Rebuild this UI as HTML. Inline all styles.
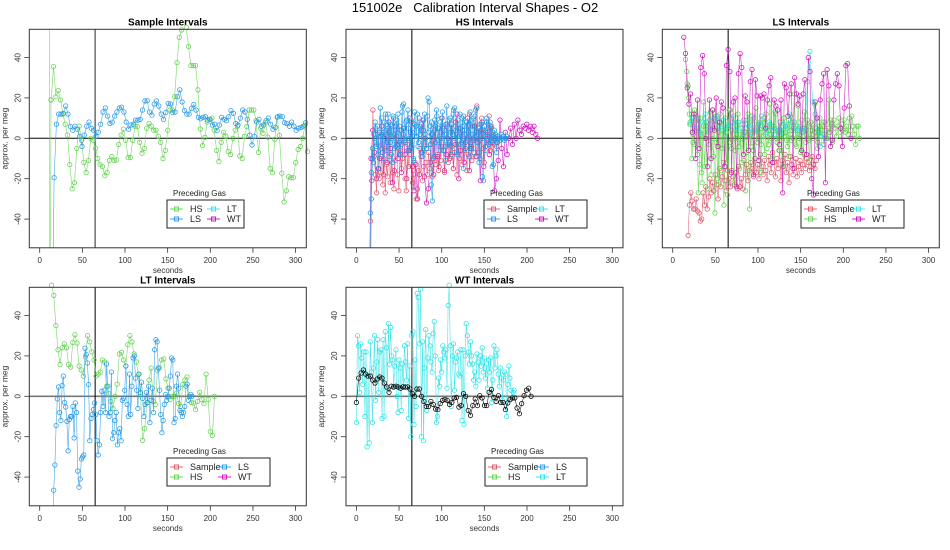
<!DOCTYPE html>
<html><head><meta charset="utf-8"><style>
html,body{margin:0;padding:0;background:#fff;width:950px;height:550px;overflow:hidden;}
svg{display:block;font-family:"Liberation Sans",sans-serif;}
</style></head><body>
<svg id="chart" width="950" height="550" xmlns="http://www.w3.org/2000/svg">
<text x="475" y="12" text-anchor="middle" font-size="13" fill="#000" style="white-space:pre">151002e   Calibration Interval Shapes - O2</text>
</svg>
<script>
// ---- data arrays (values in per meg) ----
const p1HS = [19,35.5,20.6,23.6,19,12,7,1.6,-13,-25,-22,-5,6,-1,-12,-17,-11,0,-1,-5,-10,-13,-14,-18.5,-17,-11,-9,-11,-10.7,-3,1.6,4.5,-1,-9.6,-9.4,-1,6,5.8,-2,-7.4,-5,5,7.4,6,4,4,1,-2,-10,-6,4,14,14,20.6,37.5,50,53.6,58,55,45.4,36,36,36,24,4.6,-3.6,0.5,8,9.4,10,4,-6,-11.5,-2,3,1,-6.6,-8,0,4,6,-8.7,-10,1,5.8,14,14,14,8.7,-7,5,2.5,7.7,0.6,-15,-17,-0.5,10.4,1.5,-17.3,-31.5,-26,-19,-19.5,-19.5,-12,-5.5,-4,0,6.6,-6.6];
const p1HSpre = [200,-200,19];
const p1LS = [-120,-19.5,7,12,12,12.4,16,12,5.8,4,6,4.5,1,-4,1.6,6,8,5,4,1,3,7,13,15,11,7.4,8,11,13,15,15.4,13,8,4.5,6.6,7,9,9,9.4,14,18.5,18.6,13,11.5,17,18.5,16,12,9.4,12.7,17.3,17,12.7,13,20.6,24,18,13.7,12,12,14.7,16.8,14,10.4,9.7,10.4,10.7,9,9.4,6.6,7,3.8,6.6,10.4,9.4,8.7,10.7,13.7,12.4,7.4,6.6,10,14,13,9.4,1.6,-3.3,1,8,9.4,6,6.6,8.7,10,7,4.5,5.4,10.7,11,10.7,7.7,7.4,6,8,6,4,5,5.4,6,7.7];
const p2LSa = [-100,-37,-17,-5,-12,0,5,-3,-8,3,15,-5,2,-10,8,4,-6,12,3,-2,6,-12,10,2,-4,7,12,-8,4,-3,16,17,5,-2,9,14,0,-6,8,3,-11,13,6,1,-4,10,2,7,-9,4,12,0,-5,20,18,6,-23,-31,3,9,-2,11,5,-4,8,0,13,-6,2,7,16,-3,5,10,-8,2,14,15,4,-7,9,1,12,-2,6,11,0,-5,8,3,-9,13,-4,6,10,-1,14,15,2,-12,7,4,-19,-21,6,1,10,3,-2,8,0,-14,-13,4,2,-7,1,0,-1,2,0,1,-1,0,1];
const p2LSb = [-100,-30,-10,2,8,-4,6,-15,1,10,-7,3,12,-2,5,-9,7,0,11,-5,4,9,-3,6,-8,13,2,-1,8,-6,5,10,-4,3,-10,7,1,12,-2,6,4,-7,9,0,-5,11,3,-3,8,2,-9,6,14,-1,5,-6,10,1,4,-11,7,-2,9,3,-4,12,0,6,-8,5,2,-3,10,-15,4,8,-1,6,-5,9,2,-7,11,3,-2,5,-10,7,0,4,-6,8,1,-3,6,-1,3,0,2,-2,1];
const p2Sample = [-100,-41,-21,14,-9,-18,-27,2,-20,-17,-9,-23,-5,-27,-13,-19,3,-22,-8,-17,-25,-11,1,-18,-26,-6,-15,-10,5,-20,-26,-3,-14,-8,9,-22,-18,-12,-30,-25,-16,-5,-9,-21,-14,2,-12,-18,-7,-15,-3,-19,-10,4,-13,-8,-16,1,-11,10,-6,-17,-4,6,-12,-2,-9,3,-15,-7,8,-18,-3,-10,5,-13,-1,-6,2,-16,-8,12,-4,-11,0,6,-9,16,-2,-7,4,10,-5,-12,3,8,-1,11,-6,6,2,-3,0,-4,-2,0];
const p2WT = [-100,-10,4,-7,-20,-15,-10,6,-18,2,-12,8,-5,-22,-16,6,-10,-2,-17,5,-8,-20,-6,3,-14,-26,-13,-30,-18,-7,9,-19,-32,-25,-12,2,-18,6,-9,-14,-4,5,-16,-8,0,-10,7,-15,-3,12,-20,-6,4,-12,-2,10,-16,-5,-1,6,-9,3,-21,8,-14,-4,2,-8,5,-2,-26,-20,-11,9,-5,-14,3,-8,0,5,-3,7,0,9,4,2,6,5,7,4,6,3,6,2,0];
const p3WT = [50,42,25,17,22,3,12,-10,19,-5,35,41,32,0,-14,19,-10,14,4,20,-4,8,18,15,-14,36,44,33,-17,18,20,-24,32,42,35,-8,21,18,-6,28,34,-18,29,21,-11,21,20,22,5,19,26,30,-12,19,16,14,-3,19,-27,27,25,11,22,27,-15,30,22,17,21,-6,22,29,-8,40,33,-20,-28,18,10,-9,19,27,32,-22,34,26,-4,-1,19,27,32,26,5,-4,15,36,37,16,0];
const p3Sample = [-48,-33,-27,-31,-35,-35,-30,-36,-37,-41,-40,-27,-33,-24,-35,-29,-20,-27,-22,-26,-18,-23,-30,-15,-24,-19,-12,-21,-26,-16,-20,-24,-16,-19,-23,-17,-25,-14,-24,-20,-25,-11,-18,-13,-21,-16,-12,-15,-19,-10,-17,-13,-20,-8,-14,-18,-11,-16,-21,-9,-13,-17,-7,-12,-19,-10,-15,-6,-21,-11,-14,-8,-17,-12,-22,-9,-13,-18,-15,-10,-19,-14,-11,-17,-13,-8,-15,-10,-12,-16,-14,-9,-13,-15,-11];
const p3HSa = [39,33,26,12,7,-10,2,-3,12,5,-27,-13,10,-22,18,0,6,-25,3,9,-18,14,5,-37,-2,8,-23,12,-16,4,-33,10,3,-28,6,14,-5,8,-22,0,6,12,-4,2,-12,7,3,-26,5,9,-35,2,11,-6,4,15,-2,7,3,-17,9,1,-8,12,5,-3,17,2,-10,6,13,0,4,-6,8,2,-14,10,3,-1,7,-9,11,4,0,22,5,-4,16,2,-7,9,3,13,-2,6,0,-11,8,4,2,17,5,-5,3,10,1,6,-3,8,4,0,19,3,7,-2,9,5,1,6,10,3,7,4,9,3,6,2,10,4,11,6,2,-3,6,6,0];
const p3HSb = [27,20,8,12,-2,14,4,-8,10,2,-17,6,-14,8,4,-3,13,0,-9,5,11,-20,3,7,-5,9,1,-12,6,14,-2,4,11,-6,2,8,-15,5,0,9,3,-7,12,1,-4,7,3,-10,5,0,8,-3,6,10,2,-5,4,7,0,-9,5,12,-2,3,8,-6,4,1,6,-4,9,2,-1,5,8,-3,4,0,6,3,-7,5,2,9,-1,4,7,0,3,5,-2,6,1,4,8,2,0,5,3,9,6];
const p3LT = [7,10,5,9,3,8,12,6,4,10,7,11,5,9,3,7,6,10,4,8,5,2,9,6,3,10,4,7,11,5,3,8,6,2,5,4,3,7,5,12,8,4,6,3,5,4,28,43,18,12,4,-4,2,0];
const p4HS = [55,50,35,23,15.7,24,26,24,15.7,14.5,26.7,30.5,26.4,15,13,10,19.5,30,27,22,18,10,11,12,18,17,5,1.3,-2.5,-6,0,6,21,21.8,18,15,25.6,30,27,21,17,10.7,1.3,-21.8,-16,-3.3,8,14,-2.5,-4,13,14,18,18.5,8.6,4,-1.6,0,0,1.6,-3.6,-5,5.8,8,9.6,0,-3,-3.3,-6.6,-2.5,2,-1.6,-3.6,11,-1.6,-17.5,-19.3,0];
const p4LS = [-100,-46.5,-34,-14.5,-1.3,4.6,-8,-12,5.3,10,-3,-5.3,-12.4,-27,-11.5,-10,-10,-5,-20.6,-3.3,-8,-37,-45,-41,-31,-30,-29,23.8,20.6,16.5,5.8,-22,-11,-9,-6.6,-3.3,-9,-22,-29,-24,-8,2.5,-5,3,-8,16,5,-10,-8,12,-21,-18,-12,-8,-24,-18,-16,-22,-2,-1,3,15,-4,-10,11,-9,5,19,20,9,3,-6,11,2,7,-1,-10,-4,2,-3,5,-13,-2,4,-8,23,28,27,14,3,-9,-18,-12,-4,1,-2,0,4,10,19,18,-13,-11,5,11,4,-7,-8,-10,-8,-5,5,6,-2,0,1,0];
const p5WT = [-3,9,11.5,13,11,10,10,8,6.6,8.6,9.6,9,6.6,4.6,2,5,4.6,5,4.6,4,4.6,4.6,4.6,3.6,1.3,0,3.6,3.6,0,-2.5,-5,-5,-2.5,-4,-6.3,-6.6,-3.6,-2,-1.6,-2,-4,-3,-0.8,-0.5,-5.3,-4.6,1.3,0,-7,-9.4,-4.6,-1.3,-4.6,0.3,-0.8,-4.6,-4.6,2,3.3,-0.5,-2.5,0.3,-3,-3,-6.6,-3.3,-1.6,-0.8,-0.8,-5.8,-8.6,-3.6,0.3,3,4,0];
const p5LT = [-13,30,25,2,26,19,6,22,-10,22,-25,10,-23,27,12,-13,14,30,-2,17,28,2,22,23,-11,28,-10,32,24,4,36,16,34,20,18,5,15,23,0,-8,18,14,-7,16,5,25,17,8,26,-11,15,-20,30,32,-14,18,-5,51,49,26,53,-20,27,-22,14,33,-7,19,30,25,17,12,31,37,20,-13,-10,9,5,18,12,25,22,19,23,4,45,55,25,-5,20,26,3,17,19,22,11,10,23,-12,23,-14,20,36,30,22,16,27,20,16,8,12,5,21,17,8,20,15,24,12,19,9,16,4,18,12,19,-3,8,25,14,20,23,11,5,14,9,-2,8,12,11,-10,6,15,9,3,-1,2,3];
const xTicks = [0,50,100,150,200,250,300];
const yTicks = [-40,-20,0,20,40];
const panelTitles = ["Sample Intervals","HS Intervals","LS Intervals","LT Intervals","WT Intervals"];
const cutTime = 65;
const yMin = -54, yMax = 54;

const C = {Sample:"#DF536B", HS:"#61D04F", LS:"#2297E6", LT:"#28E2E5", WT:"#CD0BBC", black:"#000"};
const panels = [
 {x:29.3,y:29.3},{x:346,y:29.3},{x:662.3,y:29.3},{x:29.3,y:287.3},{x:346,y:287.3}
];
const PW=277, PH=218.5;
const series = [
 [0,"HS",10.8,1.2,p1HSpre],[0,"HS",13.5,2.73,p1HS],[0,"LS",14.1,2.73,p1LS],
 [1,"WT",15,2.1,p2WT],[1,"Sample",15,1.45,p2Sample],[1,"LS",15,1.3,p2LSa],[1,"LS",16,1.5,p2LSb],
 [2,"Sample",18,1.6,p3Sample],[2,"HS",15,1.5,p3HSa],[2,"HS",17,1.7,p3HSb],[2,"LT",20,3,p3LT],[2,"WT",13,2.0,p3WT],
 [3,"HS",14,2.48,p4HS],[3,"LS",15,1.41,p4LS],
 [4,"LT",0,1.25,p5LT],[4,"black",0,2.73,p5WT]
];
const legends = [
 {p:0,x:167,y:200,w:77,c2:40,items:["HS","LT","LS","WT"]},
 {p:1,x:484,y:200,w:103,c2:51,items:["Sample","LT","LS","WT"]},
 {p:2,x:801,y:200,w:103,c2:51,items:["Sample","LT","HS","WT"]},
 {p:3,x:167,y:458,w:103,c2:51,items:["Sample","LS","HS","WT"]},
 {p:4,x:485,y:458,w:102,c2:51,items:["Sample","LS","HS","LT"]}
];

const NS="http://www.w3.org/2000/svg";
const svg=document.getElementById('chart');
function el(tag,attrs,parent,text){const e=document.createElementNS(NS,tag);for(const k in attrs)e.setAttribute(k,attrs[k]);if(text!==undefined)e.textContent=text;(parent||svg).appendChild(e);return e;}
function xs(p,t){return panels[p].x+10.4+t*0.853;}
function ys(p,v){return panels[p].y+109-v*2.02;}

panels.forEach((P,i)=>{
 const g=el('g',{});
 
 
 const t=el('text',{x:P.x+PW/2,y:P.y-4,'text-anchor':'middle','font-size':10,'font-weight':'bold'},g,panelTitles[i]);
 
 
 xTicks.forEach(v=>{
  const x=xs(i,v);
  el('line',{x1:x,x2:x,y1:P.y+PH,y2:P.y+PH+5,stroke:'#333','stroke-width':0.8},g);
  const l=el('text',{x:x,y:P.y+PH+15,'text-anchor':'middle','font-size':8,fill:'#333'},g,String(v));
  
  
 });
 yTicks.forEach(v=>{
  const y=ys(i,v);
  el('line',{x1:P.x-5,x2:P.x,y1:y,y2:y,stroke:'#333','stroke-width':0.8},g);
  const l=el('text',{x:0,y:0,'text-anchor':'middle','font-size':8,fill:'#333',transform:`translate(${P.x-9},${y}) rotate(-90)`},g,String(v));
  
  
 });
 const xl=el('text',{x:P.x+PW/2,y:P.y+PH+25,'text-anchor':'middle','font-size':8,fill:'#333'},g,'seconds');
 
 
 const yl=el('text',{x:0,y:0,'text-anchor':'middle','font-size':8.5,fill:'#333',transform:`translate(${P.x-22},${P.y+PH/2}) rotate(-90)`},g,'approx. per meg');
 
 
 const gray = (i===0)?'#777':'#000';
 const grayH = (i===3||i===4)?'#777':'#000';
 el('line',{x1:P.x,x2:P.x+PW,y1:ys(i,0),y2:ys(i,0),stroke:grayH,'stroke-width':(i>=3?1.6:1)},g);
 el('line',{x1:xs(i,cutTime),x2:xs(i,cutTime),y1:P.y,y2:P.y+PH,stroke:gray,'stroke-width':(i===0?1.6:1)},g);
});

// clip a segment (t,v) to the y range; returns null if fully outside
function clipSeg(t1,v1,t2,v2){
 if((v1>yMax&&v2>yMax)||(v1<yMin&&v2<yMin))return null;
 function at(v){return t1+(t2-t1)*(v-v1)/(v2-v1);}
 let a=[t1,v1],b=[t2,v2];
 if(v1>yMax)a=[at(yMax),yMax]; else if(v1<yMin)a=[at(yMin),yMin];
 if(v2>yMax)b=[at(yMax),yMax]; else if(v2<yMin)b=[at(yMin),yMin];
 return [a,b];
}

series.forEach(s=>{
 const [p,key,t0,dt,vals]=s;
 const col=C[key];
 const g=el('g',{});
 
 
 let d='';
 for(let j=1;j<vals.length;j++){
  const seg=clipSeg(t0+(j-1)*dt,vals[j-1],t0+j*dt,vals[j]);
  if(!seg)continue;
  d+=`M${xs(p,seg[0][0]).toFixed(1)},${ys(p,seg[0][1]).toFixed(1)}L${xs(p,seg[1][0]).toFixed(1)},${ys(p,seg[1][1]).toFixed(1)}`;
 }
 el('path',{d:d,fill:'none',stroke:col,'stroke-width':0.6,'stroke-opacity':0.85},g);
 vals.forEach((v,j)=>{
  if(v>yMax+1||v<yMin-1)return;
  const c=el('circle',{cx:xs(p,t0+j*dt).toFixed(1),cy:ys(p,v).toFixed(1),r:2.2,fill:'none',stroke:col,'stroke-width':0.75},g);
  
  
 });
});

panels.forEach((P,i)=>{
 const b=el('rect',{x:P.x,y:P.y,width:PW,height:PH,fill:'none',stroke:'#333','stroke-width':1});
 
 
});

legends.forEach(L=>{
 const g=el('g',{});
 
 
 const tt=el('text',{x:L.x+6,y:L.y-4,'font-size':8,fill:'#222'},g,'Preceding Gas');
 
 
 el('rect',{x:L.x,y:L.y,width:L.w,height:28,fill:'#fff',stroke:'#222','stroke-width':1},g);
 L.items.forEach((k,j)=>{
  const col=j%2, row=Math.floor(j/2);
  const lx=L.x+(col?L.c2:3), ly=L.y+9+row*10;
  const e=el('g',{},g);
  
  
  el('line',{x1:lx,x2:lx+13,y1:ly,y2:ly,stroke:C[k],'stroke-width':0.9},e);
  el('rect',{x:lx+4.5,y:ly-2,width:4,height:4,fill:'none',stroke:C[k],'stroke-width':0.9},e);
  el('text',{x:lx+20,y:ly+3,'font-size':9,fill:'#222'},e,k);
 });
});
</script>
</body></html>
